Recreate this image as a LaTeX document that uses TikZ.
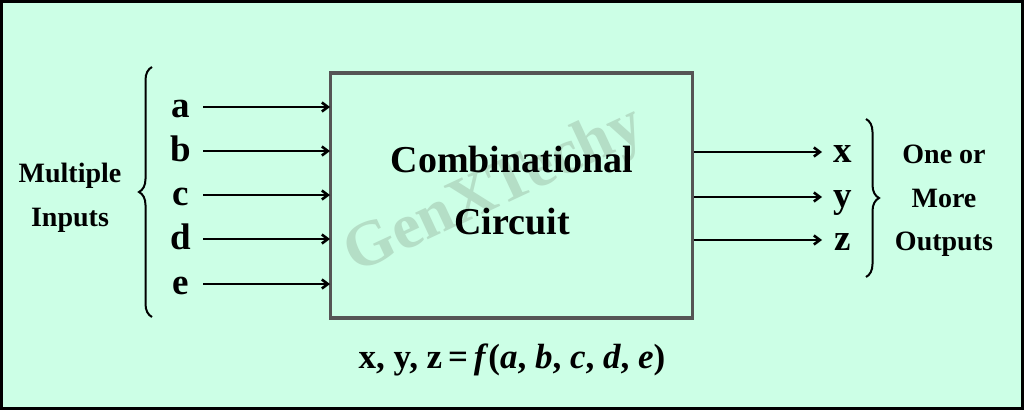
\documentclass[tikz,border=0pt]{standalone}
\usepackage{fontspec}
\setmainfont{Liberation Serif}
\usetikzlibrary{arrows.meta,decorations.pathreplacing}
\definecolor{bgmint}{HTML}{CCFFE6}
\definecolor{boxgray}{HTML}{555555}
\definecolor{wmark}{HTML}{B4DEC6}
\tikzset{
  lbl/.style={font=\bfseries\fontsize{37}{40}\selectfont, inner sep=0pt},
  side/.style={font=\bfseries\fontsize{28}{43.5}\selectfont, align=center, inner sep=0pt},
  sig/.style={-{Straight Barb[length=6pt,width=9pt]}, line width=2.6pt},
  brc/.style={decorate, decoration={brace, amplitude=13pt}, line width=2pt},
}
\begin{document}
\begin{tikzpicture}[x=1pt,y=-1pt]
\fill[bgmint] (0,0) rectangle (1024,410);
\draw[line width=3pt] (1.5,1.5) rectangle (1022.5,408.5);
\useasboundingbox (0,0) rectangle (1024,410);
% watermark
\node[rotate=25, text=wmark, font=\bfseries\fontsize{64}{70}\selectfont] (wm) at (495,192) {GenXTechy};
% main box
\node[draw=boxgray, line width=3.5pt, minimum width=362pt, minimum height=245pt, inner sep=0pt] (box) at (511.5,195.5) {};
\node[font=\bfseries\fontsize{38}{62}\selectfont, align=center] (title) at (512,191) {Combinational\\Circuit};
% inputs
\foreach \n/\y in {a/107,b/151,c/195,d/239,e/284}{
  \node[lbl, anchor=base] (\n) at (181,\y+10) {\n};
  \coordinate (\n s) at (203,\y);
  \coordinate (\n e) at (330,\y);
  \draw[sig] (\n s) -- (\n e);
}
% outputs
\foreach \n/\y in {x/152,y/197,z/240}{
  \coordinate (\n s) at (694,\y);
  \coordinate (\n e) at (822,\y);
  \draw[sig] (\n s) -- (\n e);
  \node[lbl, anchor=base] (\n) at (843,\y+10) {\n};
}
% braces
\coordinate (lb1) at (152,317);
\coordinate (lb2) at (152,67);
\draw[brc] (lb1) -- (lb2);
\coordinate (rb1) at (866,119);
\coordinate (rb2) at (866,277);
\draw[brc] (rb1) -- (rb2);
% side labels
\node[side] (inputs) at (70,198) {Multiple\\Inputs};
\node[side] (outputs) at (944,201) {One or\\More\\Outputs};
% formula
\node[font=\bfseries\fontsize{35}{40}\selectfont] (formula) at (512,360) {x, y, z\,=\,\textit{f}(\textit{a}, \textit{b}, \textit{c}, \textit{d}, \textit{e})};
\end{tikzpicture}
\end{document}
